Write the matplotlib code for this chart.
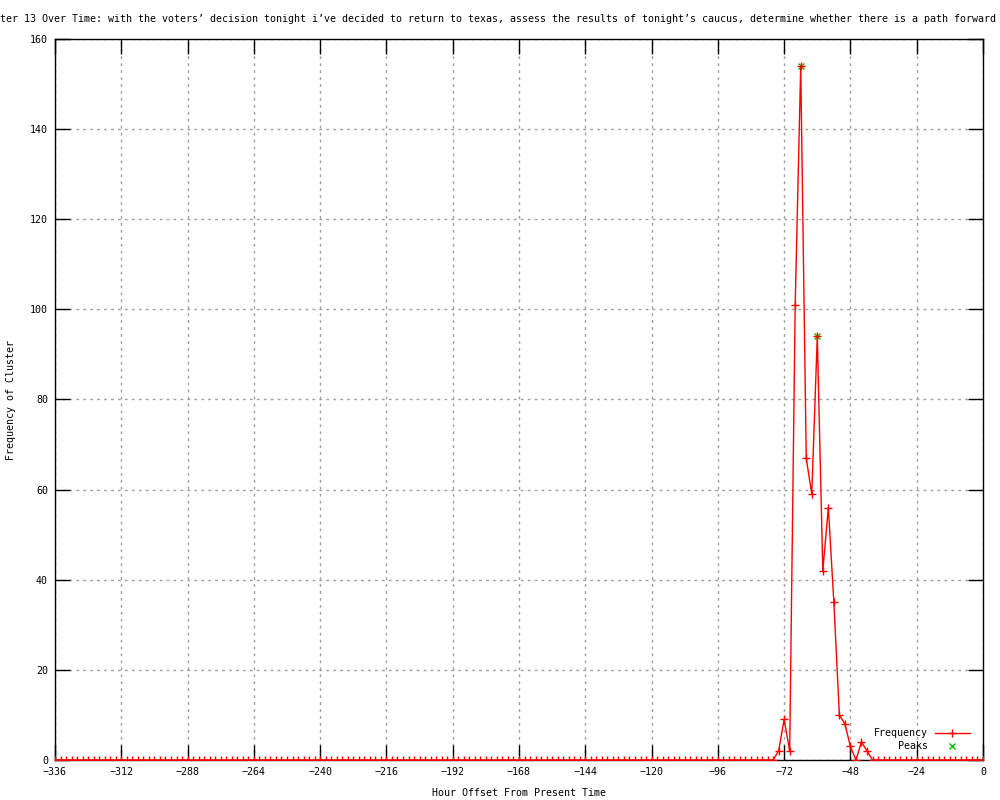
import numpy as np
import matplotlib
matplotlib.use("Agg")
import matplotlib.pyplot as plt

# horas relativas (cada 2 horas) y frecuencia
hours = np.arange(-336, 1, 2)
frequency = ([0] * 131 +
             [2, 9, 2, 101, 154, 67, 59, 94, 42, 56, 35, 10, 8, 3, 0, 4, 2, 0] +
             [0] * 20)
peak_hours = [-66, -60]
peak_values = [154, 94]

x_ticks = list(range(-336, 1, 24))
y_ticks = list(range(0, 161, 20))

title = ("Frequency of Cluster 13 Over Time: with the voters\u2019 decision tonight "
         "i\u2019ve decided to return to texas, assess the results of tonight\u2019s caucus, "
         "determine whether there is a path forward for myself in this race")

plt.rcParams['font.family'] = ['DejaVu Sans Mono']
plt.rcParams['font.size'] = 7.2

fig = plt.figure(figsize=(10, 8), dpi=100)
ax = fig.add_axes([0.055, 0.05, 0.928, 0.90125])

ax.plot(hours, frequency, color='red', lw=1, marker='+', ms=6, mew=1, zorder=3)
ax.plot(peak_hours, peak_values, ls='none', color='#00c000', marker='x', ms=5, mew=1, zorder=2)

ax.set_xlim(-336, 0)
ax.set_ylim(0, 160)
ax.set_xticks(x_ticks)
ax.set_yticks(y_ticks)
ax.grid(True, color='#a0a0a0', ls=(0, (2, 3)), lw=1)
ax.tick_params(direction='in', length=11, width=1, top=True, right=True,
               labelsize=7.2, pad=5, colors='black')
for s in ax.spines.values():
    s.set_color('black')
    s.set_linewidth(1)

ax.set_xlabel("Hour Offset From Present Time", fontsize=7.2, labelpad=8)
ax.set_ylabel("Frequency of Cluster", fontsize=7.2, labelpad=10)

# el titulo es mas ancho que la figura, igual que en el original
fig.text(0.519, 1 - 19 / 800, title, ha='center', va='center', fontsize=7.2)

# leyenda estilo gnuplot (texto alineado a la derecha)
tr = ax.transAxes
ax.text(0.941, 0.038, "Frequency", transform=tr, ha='right', va='center', fontsize=7.2)
ax.plot([0.948, 0.986], [0.038, 0.038], transform=tr, color='red', lw=1)
ax.plot([0.967], [0.038], transform=tr, color='red', marker='+', ms=6, mew=1)
ax.text(0.941, 0.020, "Peaks", transform=tr, ha='right', va='center', fontsize=7.2)
ax.plot([0.967], [0.020], transform=tr, color='#00c000', marker='x', ms=5, mew=1)

fig.savefig("out.png", dpi=100)
